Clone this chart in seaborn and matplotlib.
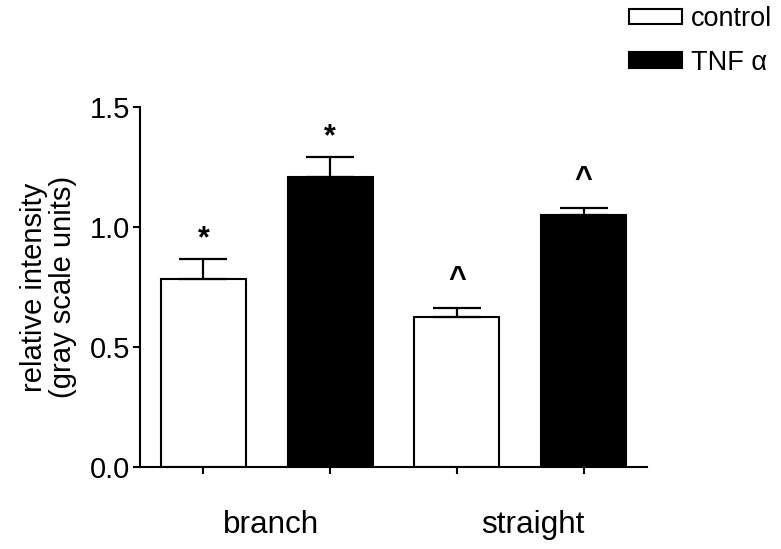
import matplotlib
matplotlib.use("Agg")
import matplotlib.pyplot as plt
import numpy as np
import pandas as pd
import seaborn as sns

# Données
bars = ["branch control", "branch TNF", "straight control", "straight TNF"]
treatment = ["control", "TNF α", "control", "TNF α"]
means = [0.783, 1.21, 0.625, 1.051]
sem = [0.082, 0.08, 0.036, 0.027]
marks = ["*", "*", "^", "^"]
groups = ["branch", "straight"]
y_ticks = [0.0, 0.5, 1.0, 1.5]

sns.set_theme(style="ticks")
plt.rcParams["font.family"] = ["Liberation Sans", "DejaVu Sans"]
plt.rcParams["text.color"] = "black"
plt.rcParams["axes.labelcolor"] = "black"
plt.rcParams["xtick.color"] = "black"
plt.rcParams["ytick.color"] = "black"

df = pd.DataFrame({"bar": bars, "treatment": treatment, "value": means})

fig = plt.figure(figsize=(7.81, 5.49), dpi=100)
ax = fig.add_axes([140 / 781, 1 - 467 / 549, 507 / 781, 360 / 549])

sns.barplot(
    data=df,
    x="bar",
    y="value",
    hue="treatment",
    palette={"control": "white", "TNF α": "black"},
    dodge=False,
    width=0.67,
    edgecolor="black",
    linewidth=1.5,
    errorbar=None,
    ax=ax,
)

x = np.arange(len(bars))
ax.errorbar(
    x, means, yerr=[np.zeros(len(sem)), sem], fmt="none",
    ecolor="black", elinewidth=1.6, capsize=17, capthick=1.6, zorder=1,
)

# Marques de significativité
for xi, m, s, mk in zip(x, means, sem, marks):
    off = 0.05 if mk == "*" else 0.085
    ax.text(xi, m + s + off, mk, ha="center", va="baseline",
            fontsize=22, fontweight="bold")

ax.set_xlim(-0.5, 3.5)
ax.set_ylim(0, 1.5)
ax.set_yticks(y_ticks)
ax.set_yticklabels([f"{v:.1f}" for v in y_ticks])
ax.set_xticks(x)
ax.set_xticklabels([])
ax.set_xlabel("")
ax.set_ylabel("relative intensity\n(gray scale units)", fontsize=21, labelpad=9, linespacing=1.05)

for lab, xp in zip(groups, [0.53, 2.6]):
    ax.text(xp, -0.183, lab, transform=ax.get_xaxis_transform(),
            ha="center", va="baseline", fontsize=22.7)

sns.despine(ax=ax)
for sp in ["left", "bottom"]:
    ax.spines[sp].set_linewidth(1.5)
    ax.spines[sp].set_color("black")
ax.tick_params(axis="both", direction="out", length=5, width=1.5, color="black")
ax.tick_params(axis="y", labelsize=21, pad=2)

handles, labels = ax.get_legend_handles_labels()
ax.get_legend().remove()
fig.legend(
    handles, labels,
    loc="upper left",
    bbox_to_anchor=(629 / 781, 1 - 6 / 549),
    frameon=False,
    fontsize=19.5,
    handlelength=1.95,
    handleheight=0.5,
    handletextpad=0.35,
    labelspacing=0.65,
    borderpad=0,
    borderaxespad=0,
)

fig.savefig("out.png", dpi=100)
